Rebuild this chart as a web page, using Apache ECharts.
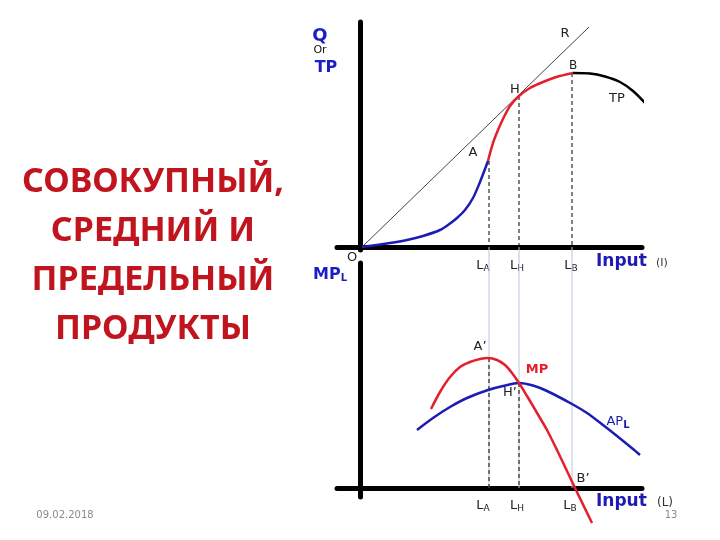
<!DOCTYPE html>
<html>
<head>
<meta charset="utf-8">
<script src="https://cdn.jsdelivr.net/npm/echarts@6/dist/echarts.min.js"></script>
<style>
  html, body { margin: 0; padding: 0; background: #fff; }
  #chart { width: 720px; height: 540px; }
</style>
</head>
<body>
<div id="chart"></div>
<script>
// units: x = labour L, y = output (arbitrary units)
// top panel: total product, three pieces (convex / concave / falling)
var tpRise = [[0.2, 0], [3.0, 0.4], [4.7, 0.7], [6.3, 1.1], [8.0, 1.7], [8.8, 2.2], [9.7, 2.9], [10.5, 3.7], [11.3, 4.9], [12.0, 6.5], [12.8, 8.6]]
var tpPeak = [[12.8, 8.6], [13.3, 10.4], [13.8, 11.7], [14.3, 12.8], [15.0, 14.1], [15.9, 15.1], [17.0, 15.9], [18.3, 16.5], [19.8, 17.05], [21.3, 17.4]]
var tpFall = [[21.3, 17.4], [23.0, 17.35], [24.5, 17.05], [26.0, 16.5], [27.3, 15.6], [28.7, 14.2]]
// ray from the origin, tangent at H
var rayLine = [[0.2, 0], [22.9, 22.0]]
// bottom panel: marginal and average product
var mpCurve = [[7.1, 7.9], [8.0, 9.6], [9.0, 11.1], [10.0, 12.1], [11.0, 12.6], [12.0, 12.9], [12.8, 13.0], [13.7, 12.8], [14.5, 12.3],
  [15.2, 11.5], [15.9, 10.5], [16.7, 9.2], [17.3, 8.2], [18.0, 7.0], [18.7, 5.8], [19.7, 3.8], [20.7, 1.7], [21.5, 0], [23.2, -3.5]]
var apCurve = [[5.7, 5.8], [7.3, 7.0], [9.0, 8.1], [10.7, 9.0], [12.8, 9.8], [14.3, 10.2], [15.9, 10.5], [17.3, 10.25], [18.7, 9.7],
  [21.2, 8.4], [22.7, 7.5], [24.3, 6.3], [25.7, 5.2], [27.3, 3.9], [28.0, 3.3]]
// L_A, L_H, L_B and the heights of the marked points
var keyInputs = [12.9, 15.9, 21.2]
var topMarks = [8.6, 15.1, 17.4]    // A, H, B
var bottomMarks = [13.0, 10.5]      // A', H'
var guideTop = 24.1                 // top axis seen from the lower panel

var titleLines = ['СОВОКУПНЫЙ,', 'СРЕДНИЙ И', 'ПРЕДЕЛЬНЫЙ', 'ПРОДУКТЫ']

var myChart = echarts.init(document.getElementById('chart'))

function axisPair (yMin, yMax, idx) {
  return {
    x: {
      type: 'value', gridIndex: idx, min: -2.3, max: 28.2,
      axisLine: { onZero: true, lineStyle: { color: '#000', width: 5 } },
      axisTick: { show: false }, axisLabel: { show: false }, splitLine: { show: false }
    },
    y: {
      type: 'value', gridIndex: idx, min: yMin, max: yMax,
      axisLine: { onZero: true, lineStyle: { color: '#000', width: 5 } },
      axisTick: { show: false }, axisLabel: { show: false }, splitLine: { show: false }
    }
  }
}
var upperAxes = axisPair(-0.3, 22.5, 0)
var lowerAxes = axisPair(-0.9, 22.5, 1)

function line (data, color, width, grid, extra) {
  var s = {
    type: 'line', data: data, xAxisIndex: grid, yAxisIndex: grid,
    symbol: 'none', silent: true, clip: false,
    lineStyle: { color: color, width: width }
  }
  for (var k in extra) s[k] = extra[k]
  return s
}

var series = []
// light guides running from the upper axis down to the lower one
keyInputs.forEach(function (x) {
  series.push(line([[x, 0], [x, guideTop]], '#b4c6dc', 1, 1))
})
keyInputs.forEach(function (x, i) {
  series.push(line([[x, topMarks[i]], [x, 0]], '#000', 1, 0, { lineStyle: { color: '#000', width: 1, type: [4, 3] } }))
})
bottomMarks.forEach(function (y, i) {
  series.push(line([[keyInputs[i], y], [keyInputs[i], 0]], '#000', 1, 1, { lineStyle: { color: '#000', width: 1, type: [4, 3] } }))
})
series.push(line(rayLine, '#444', 1, 0))
series.push(line(tpRise, '#1c1cb4', 2.5, 0, { smooth: 0.3 }))
series.push(line(tpPeak, '#e4202c', 2.5, 0, { smooth: 0.3 }))
series.push(line(tpFall, '#000', 2.5, 0, { smooth: 0.3 }))
series.push(line(apCurve, '#1c1cb4', 2.5, 1, { smooth: 0.3 }))
series.push(line(mpCurve, '#e4202c', 2.5, 1, { smooth: 0.3 }))

var lab = 'DejaVu Sans'
function txt (x, y, text, size, color, weight, align, rich) {
  return {
    type: 'text', silent: true,
    style: {
      x: x, y: y, text: text, fill: color, fontSize: size, fontFamily: lab,
      fontWeight: weight || 'normal', align: align || 'center', verticalAlign: 'middle',
      rich: rich
    }
  }
}
var subRich = {
  s: { fontSize: 9, fontFamily: lab, fill: '#222', padding: [6, 0, 0, 0] }
}
var blueSub = {
  s: { fontSize: 10, fontFamily: lab, fill: '#1c1cb4', fontWeight: 'bold', padding: [6, 0, 0, 0] }
}

var graphics = []
titleLines.forEach(function (t, i) {
  graphics.push({
    type: 'text', silent: true,
    style: {
      x: 153, y: 182 + i * 49, text: t, fill: '#c0141e',
      fontSize: 34, fontFamily: 'Noto Sans', fontWeight: 'bold',
      align: 'center', verticalAlign: 'middle'
    }
  })
})
graphics.push(txt(65, 515, '09.02.2018', 10, '#8a8a8a'))
graphics.push(txt(671, 515, '13', 10, '#8a8a8a'))

// top panel labels
graphics.push(txt(320, 36, 'Q', 18, '#1c1cc8', 'bold'))
graphics.push(txt(320, 50, 'Or', 11, '#111'))
graphics.push(txt(326, 68, 'TP', 16, '#1c1cc8', 'bold'))
graphics.push(txt(565, 34, 'R', 13, '#222'))
graphics.push(txt(573, 66, 'B', 12, '#222'))
graphics.push(txt(515, 90, 'H', 13, '#222'))
graphics.push(txt(473, 153, 'A', 13, '#222'))
graphics.push(txt(617, 99, 'TP', 13, '#222'))
graphics.push(txt(352, 258, 'O', 13, '#222'))
graphics.push(txt(483, 266, 'L{s|A}', 13, '#222', 'normal', 'center', subRich))
graphics.push(txt(517, 266, 'L{s|H}', 13, '#222', 'normal', 'center', subRich))
graphics.push(txt(571, 266, 'L{s|B}', 13, '#222', 'normal', 'center', subRich))
graphics.push(txt(596, 262, 'Input', 17, '#1c1cb4', 'bold', 'left'))
graphics.push(txt(656, 263, '(I)', 11, '#333', 'normal', 'left'))

// bottom panel labels
graphics.push(txt(330, 275, 'MP{s|L}', 16, '#1c1cc8', 'bold', 'center', blueSub))
graphics.push(txt(480, 347, 'A\u2019', 13, '#222'))
graphics.push(txt(537, 370, 'MP', 13, '#e4202c', 'bold'))
graphics.push(txt(510, 393, 'H\u2019', 13, '#222'))
graphics.push(txt(618, 422, 'AP{s|L}', 13, '#1c1cb4', 'normal', 'center', blueSub))
graphics.push(txt(583, 479, 'B\u2019', 13, '#222'))
graphics.push(txt(483, 506, 'L{s|A}', 13, '#222', 'normal', 'center', subRich))
graphics.push(txt(517, 506, 'L{s|H}', 13, '#222', 'normal', 'center', subRich))
graphics.push(txt(570, 506, 'L{s|B}', 13, '#222', 'normal', 'center', subRich))
graphics.push(txt(596, 502, 'Input', 17, '#1c1cb4', 'bold', 'left'))
graphics.push(txt(657, 503, '(L)', 12, '#333', 'normal', 'left'))

myChart.setOption({
  animation: false,
  backgroundColor: '#fff',
  grid: [
    { left: 337, top: 22, width: 305, height: 228 },
    { left: 337, top: 263, width: 305, height: 234 }
  ],
  xAxis: [upperAxes.x, lowerAxes.x],
  yAxis: [upperAxes.y, lowerAxes.y],
  series: series,
  graphic: graphics
})
</script>
</body>
</html>
